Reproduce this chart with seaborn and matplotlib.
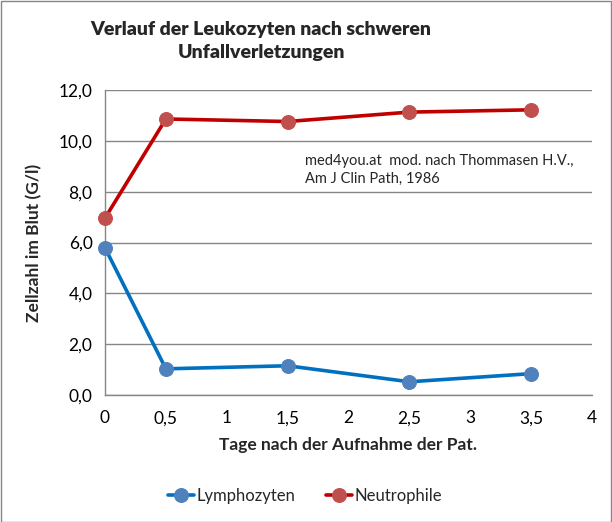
import matplotlib
matplotlib.use("Agg")
import matplotlib.pyplot as plt
from matplotlib.ticker import FuncFormatter, MultipleLocator
from matplotlib.patches import Rectangle
import seaborn as sns
import pandas as pd

days = [0, 0.5, 1.5, 2.5, 3.5]
lymphozyten = [5.79, 1.03, 1.15, 0.52, 0.84]
neutrophile = [6.96, 10.86, 10.76, 11.13, 11.22]
series_names = ["Lymphozyten", "Neutrophile"]

df = pd.DataFrame({
    "Tage": days * 2,
    "Wert": lymphozyten + neutrophile,
    "Serie": [series_names[0]] * len(days) + [series_names[1]] * len(days),
})

sns.set_style("white")
plt.rcParams["font.family"] = ["Lato", "DejaVu Sans"]

line_colors = {"Lymphozyten": "#0070C0", "Neutrophile": "#C00000"}
marker_colors = {"Lymphozyten": "#4F81BD", "Neutrophile": "#C0504D"}

fig = plt.figure(figsize=(6.12, 5.22), dpi=100)
ax = fig.add_axes([105/612, 1 - 395/522, (592-105)/612, (395-90)/522])

sns.lineplot(data=df, x="Tage", y="Wert", hue="Serie", palette=line_colors,
             marker="o", markersize=10, linewidth=2.6, ax=ax, legend=False)

for line, name in zip(ax.lines, series_names):
    line.set_markerfacecolor(marker_colors[name])
    line.set_markeredgecolor(marker_colors[name])
    line.set_label(name)
    line.set_clip_on(False)
    line.set_zorder(5)

ax.set_xlim(0, 4)
ax.set_ylim(0, 12)
ax.xaxis.set_major_locator(MultipleLocator(0.5))
ax.yaxis.set_major_locator(MultipleLocator(2))

def xfmt(v, pos):
    if abs(v - round(v)) < 1e-9:
        return str(int(round(v)))
    return f"{v:.1f}".replace(".", ",")

ax.xaxis.set_major_formatter(FuncFormatter(xfmt))
ax.yaxis.set_major_formatter(FuncFormatter(lambda v, p: f"{v:.1f}".replace(".", ",")))

ax.grid(axis="y", color="#868686", linewidth=1)
ax.grid(axis="x", visible=False)
for s in ["top", "right"]:
    ax.spines[s].set_visible(False)
for s in ["left", "bottom"]:
    ax.spines[s].set_color("#868686")
    ax.spines[s].set_linewidth(1)
ax.tick_params(axis="both", direction="out", length=5, width=1, color="#868686",
               labelsize=12.5, labelcolor="black", pad=6)
ax.tick_params(axis="y", pad=4)
ax.set_axisbelow(True)

ax.set_xlabel("Tage nach der Aufnahme der Pat.", fontsize=12.5, fontweight="bold", labelpad=8)
ax.set_ylabel("Zellzahl im Blut (G/l)", fontsize=12.5, fontweight="bold", labelpad=12)

fig.text(261/612, 1 - 41/522, "Verlauf der Leukozyten nach schweren\nUnfallverletzungen",
         ha="center", va="center", fontsize=14, fontweight="heavy", linespacing=1.45)

fig.text(305/612, 1 - 170/522, "med4you.at  mod. nach Thommasen H.V.,\nAm J Clin Path, 1986",
         fontsize=10.5, va="center", ha="left", linespacing=1.4)

fig.legend(handles=ax.lines[:2], labels=series_names, loc="center",
           bbox_to_anchor=(305/612, 1 - 496/522), ncol=2, frameon=False,
           fontsize=12, handlelength=1.6, columnspacing=1.8, handletextpad=0.15)

fig.patches.append(Rectangle((0.5/612, 0.5/522), 1 - 1.5/612, 1 - 1.5/522,
                             transform=fig.transFigure, fill=False,
                             edgecolor="#868686", linewidth=1))

fig.savefig("out.png", dpi=100)
